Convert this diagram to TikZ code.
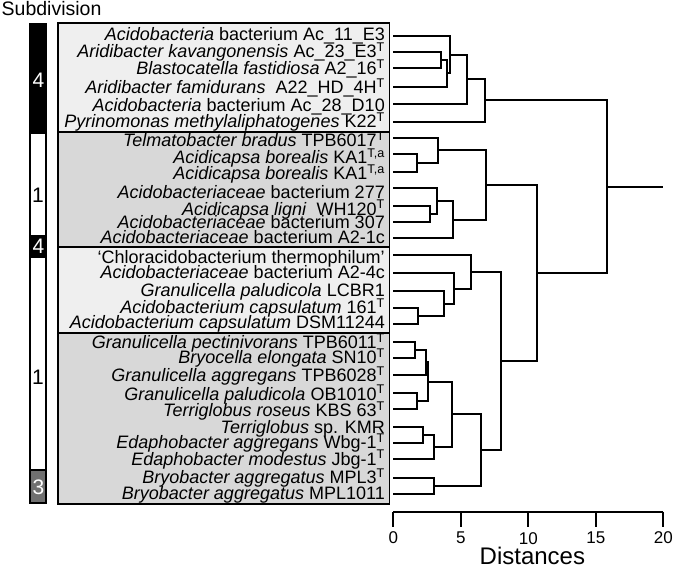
\documentclass[tikz,border=0pt]{standalone}
\usepackage{fontspec}
\setmainfont{Liberation Sans}
\usepackage{tikz}

\definecolor{palegrp}{HTML}{EFEFEF}
\definecolor{darkgrp}{HTML}{D8D8D8}
\definecolor{subgrey}{HTML}{707070}

\begin{document}
\begin{tikzpicture}[x=1pt, y=-1pt,
    taxon/.style={anchor=base east, inner sep=0pt,
      font=\fontsize{18}{17}\selectfont},
    branch/.style={line width=2pt},
    grpbox/.style={draw, line width=1.6pt},
    subbar/.style={draw, line width=1.4pt},
    subnum/.style={font=\fontsize{21}{21}\selectfont, inner sep=0pt},
    ticklab/.style={font=\fontsize{17}{17}\selectfont, inner sep=0pt}]
\useasboundingbox (0,0) rectangle (676,569);

% subdivision bar
\node[anchor=base west, inner sep=0pt, font=\fontsize{19.5}{19.5}\selectfont] (sub) at (1.5,15.5) {Subdivision};
\draw[subbar, fill=black] (30,23.3) rectangle (46,133.3);
\draw[subbar, fill=white] (30,133.3) rectangle (46,236);
\draw[subbar, fill=black] (30,236) rectangle (46,257.3);
\draw[subbar, fill=white] (30,257.3) rectangle (46,470);
\draw[subbar, fill=subgrey] (30,470) rectangle (46,503);
\node[subnum, white] (s1) at (38.5,80) {4};
\node[subnum] (s2) at (38,195) {1};
\node[subnum, white] (s3) at (38.5,246.5) {4};
\node[subnum] (s4) at (38,377) {1};
\node[subnum, white] (s5) at (38.5,487) {3};

% taxon boxes
\draw[grpbox, fill=palegrp] (58,23) rectangle (389.3,132.3);
\draw[grpbox, fill=darkgrp] (58,132.3) rectangle (389.3,246.7);
\draw[grpbox, fill=palegrp] (58,246.7) rectangle (389.3,332.7);
\draw[grpbox, fill=darkgrp] (58,332.7) rectangle (389.3,504);

% taxa
\node[taxon] (t1) at (385,40.7) {\textit{Acidobacteria} bacterium Ac\_11\_E3};
\node[taxon] (t2) at (385,57.3) {\textit{Aridibacter kavangonensis} Ac\_23\_E3\textsuperscript{T}};
\node[taxon] (t3) at (385,75) {\textit{Blastocatella fastidiosa} A2\_16\textsuperscript{T}};
\node[taxon] (t4) at (385,93.3) {\textit{Aridibacter famidurans}\ \ A22\_HD\_4H\textsuperscript{T}};
\node[taxon] (t5) at (385,111.7) {\textit{Acidobacteria} bacterium Ac\_28\_D10};
\node[taxon] (t6) at (385,127.3) {\textit{Pyrinomonas methylaliphatogenes} K22\textsuperscript{T}};
\node[taxon] (t7) at (385,146.7) {\textit{Telmatobacter bradus} TPB6017\textsuperscript{T}};
\node[taxon] (t8) at (385,163.3) {\textit{Acidicapsa borealis} KA1\textsuperscript{T,a}};
\node[taxon] (t9) at (385,179.3) {\textit{Acidicapsa borealis} KA1\textsuperscript{T,a}};
\node[taxon] (t10) at (385,198.3) {\textit{Acidobacteriaceae} bacterium 277};
\node[taxon] (t11) at (385,215) {\textit{Acidicapsa ligni}\ \ WH120\textsuperscript{T}};
\node[taxon] (t12) at (385,228.3) {\textit{Acidobacteriaceae} bacterium 307};
\node[taxon] (t13) at (385,243.3) {\textit{Acidobacteriaceae} bacterium A2-1c};
\node[taxon] (t14) at (385,263.3) {`Chloracidobacterium thermophilum'};
\node[taxon] (t15) at (385,278.3) {\textit{Acidobacteriaceae} bacterium A2-4c};
\node[taxon] (t16) at (385,296.7) {\textit{Granulicella paludicola} LCBR1};
\node[taxon] (t17) at (385,313.3) {\textit{Acidobacterium capsulatum} 161\textsuperscript{T}};
\node[taxon] (t18) at (385,328.3) {\textit{Acidobacterium capsulatum} DSM11244};
\node[taxon] (t19) at (385,348.3) {\textit{Granulicella pectinivorans} TPB6011\textsuperscript{T}};
\node[taxon] (t20) at (385,363.3) {\textit{Bryocella elongata} SN10\textsuperscript{T}};
\node[taxon] (t21) at (385,381.7) {\textit{Granulicella aggregans} TPB6028\textsuperscript{T}};
\node[taxon] (t22) at (385,400) {\textit{Granulicella paludicola} OB1010\textsuperscript{T}};
\node[taxon] (t23) at (385,416.7) {\textit{Terriglobus roseus} KBS 63\textsuperscript{T}};
\node[taxon] (t24) at (385,433.3) {\textit{Terriglobus} sp. KMR};
\node[taxon] (t25) at (385,448.3) {\textit{Edaphobacter aggregans} Wbg-1\textsuperscript{T}};
\node[taxon] (t26) at (385,465) {\textit{Edaphobacter modestus} Jbg-1\textsuperscript{T}};
\node[taxon] (t27) at (385,483.3) {\textit{Bryobacter aggregatus} MPL3\textsuperscript{T}};
\node[taxon] (t28) at (385,499.3) {\textit{Bryobacter aggregatus} MPL1011};

% tree, x in distance units
\begin{scope}[shift={(393.3,0)}, x=13.5pt]
  % leaves
  \coordinate (l1) at (0,35.7);   \coordinate (l2) at (0,52.3);
  \coordinate (l3) at (0,68.3);   \coordinate (l4) at (0,86.7);
  \coordinate (l5) at (0,104);    \coordinate (l6) at (0,121.7);
  \coordinate (l7) at (0,137.7);  \coordinate (l8) at (0,154.3);
  \coordinate (l9) at (0,172.3);  \coordinate (l10) at (0,188.3);
  \coordinate (l11) at (0,205.7); \coordinate (l12) at (0,222.3);
  \coordinate (l13) at (0,238.3); \coordinate (l14) at (0,255);
  \coordinate (l15) at (0,273.3); \coordinate (l16) at (0,291);
  \coordinate (l17) at (0,308.3); \coordinate (l18) at (0,324.3);
  \coordinate (l19) at (0,341.7); \coordinate (l20) at (0,357.7);
  \coordinate (l21) at (0,375);   \coordinate (l22) at (0,393.3);
  \coordinate (l23) at (0,409.3); \coordinate (l24) at (0,426.7);
  \coordinate (l25) at (0,442.7); \coordinate (l26) at (0,459.3);
  \coordinate (l27) at (0,477.7); \coordinate (l28) at (0,494);

  % joins
  \coordinate (a23) at (3.53,60.3);
  \coordinate (a234) at (3.96,73.5);
  \coordinate (a14) at (4.2,54.6);
  \coordinate (a15) at (5.48,79.3);
  \coordinate (a16) at (6.79,100.5);
  \coordinate (b89) at (1.73,163.3);
  \coordinate (b79) at (3.33,150.5);
  \coordinate (b1112) at (2.72,214);
  \coordinate (b1012) at (3.21,201.2);
  \coordinate (b1013) at (4.44,219.8);
  \coordinate (b713) at (6.84,185.1);
  \coordinate (c1718) at (1.81,316.3);
  \coordinate (c1618) at (3.78,303.7);
  \coordinate (c1518) at (4.52,288.5);
  \coordinate (c1418) at (5.76,271.7);
  \coordinate (d1920) at (1.61,349.7);
  \coordinate (d1921) at (2.42,362.3);
  \coordinate (d2223) at (1.73,401.3);
  \coordinate (d1923) at (2.59,381.8);
  \coordinate (d2425) at (2.22,434.7);
  \coordinate (d2426) at (3.04,447);
  \coordinate (d1926) at (4.33,414.4);
  \coordinate (d2728) at (3.04,485.8);
  \coordinate (d1928) at (6.47,450.1);
  \coordinate (cd) at (7.98,360.9);
  \coordinate (bcd) at (10.67,273);
  \coordinate (root) at (15.81,186.8);
  \coordinate (stub) at (20,186.8);

  \draw[branch] (a23) |- (l2) (a23) |- (l3);
  \draw[branch] (a234) |- (a23) (a234) |- (l4);
  \draw[branch] (a14) |- (l1) (a14) |- (a234);
  \draw[branch] (a15) |- (a14) (a15) |- (l5);
  \draw[branch] (a16) |- (a15) (a16) |- (l6);

  \draw[branch] (b89) |- (l8) (b89) |- (l9);
  \draw[branch] (b79) |- (l7) (b79) |- (b89);
  \draw[branch] (b1112) |- (l11) (b1112) |- (l12);
  \draw[branch] (b1012) |- (l10) (b1012) |- (b1112);
  \draw[branch] (b1013) |- (b1012) (b1013) |- (l13);
  \draw[branch] (b713) |- (b79) (b713) |- (b1013);

  \draw[branch] (c1718) |- (l17) (c1718) |- (l18);
  \draw[branch] (c1618) |- (l16) (c1618) |- (c1718);
  \draw[branch] (c1518) |- (l15) (c1518) |- (c1618);
  \draw[branch] (c1418) |- (l14) (c1418) |- (c1518);

  \draw[branch] (d1920) |- (l19) (d1920) |- (l20);
  \draw[branch] (d1921) |- (d1920) (d1921) |- (l21);
  \draw[branch] (d2223) |- (l22) (d2223) |- (l23);
  \draw[branch] (d1923) |- (d1921) (d1923) |- (d2223);
  \draw[branch] (d2425) |- (l24) (d2425) |- (l25);
  \draw[branch] (d2426) |- (d2425) (d2426) |- (l26);
  \draw[branch] (d1926) |- (d1923) (d1926) |- (d2426);
  \draw[branch] (d2728) |- (l27) (d2728) |- (l28);
  \draw[branch] (d1928) |- (d1926) (d1928) |- (d2728);

  \draw[branch] (cd) |- (c1418) (cd) |- (d1928);
  \draw[branch] (bcd) |- (b713) (bcd) |- (cd);
  \draw[branch] (root) |- (a16) (root) |- (bcd);
  \draw[branch] (root) -- (stub);

  % axis
  \coordinate (ax0) at (0,511.7);
  \coordinate (ax20) at (20,511.7);
  \draw[branch] (ax0) -- (ax20);
  \foreach \d in {0,5,15,20}{
    \draw[branch] (\d,511.7) -- (\d,526.7);
    \node[ticklab] (tick\d) at (\d,537.5) {\d};
  }
  \draw[branch] (10,511.7) -- (10,526.7);
  \node[ticklab] (tick10) at (10,539) {10};
  \node[font=\fontsize{24}{24}\selectfont, inner sep=0pt] (dist) at (10.3,555.5) {Distances};
\end{scope}
\end{tikzpicture}
\end{document}
